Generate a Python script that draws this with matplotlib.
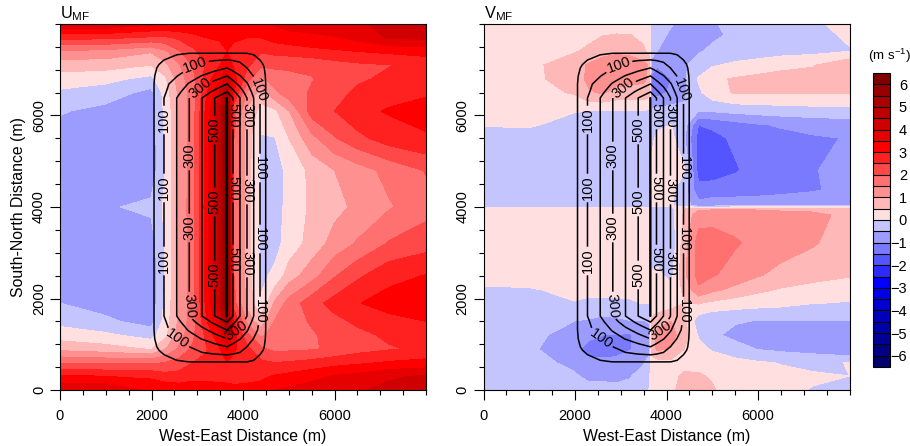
import numpy as np
import matplotlib
matplotlib.use("Agg")
import matplotlib.pyplot as plt
from matplotlib.colors import ListedColormap, BoundaryNorm
from matplotlib.ticker import MultipleLocator

plt.rcParams['font.family'] = ['Liberation Sans', 'DejaVu Sans']
plt.rcParams['mathtext.fontset'] = 'custom'
plt.rcParams['mathtext.rm'] = 'Liberation Sans'
plt.rcParams['mathtext.default'] = 'rm'

# ---- data ----
u_x = [0, 984, 1989, 2295, 2601, 2907, 3191, 3497, 3650, 3803, 4100, 4393, 4699, 5005, 5508, 6000, 6492, 7191, 8000]
u_y = [8000, 7700, 7400, 7100, 6800, 6500, 6100, 5500, 4800, 4000, 3200, 2500, 1900, 1500, 1200, 900, 600, 300, 0]
u_values = [
 [3.9,3.9,3.6,3.55,3.5,3.5,3.5,3.4,3.3,3.25,3.2,3.3,3.55,3.7,3.8,3.9,3.95,4.1,4.2],
 [2.66,2.6,2.42,2.4,2.6,2.8,3.0,3.05,3.1,3.05,3.0,3.0,3.2,3.3,3.35,3.45,3.65,4.05,4.1],
 [1.4,1.35,1.05,1.4,1.95,2.4,2.7,2.85,3.0,2.9,2.75,2.55,2.65,2.7,2.85,2.92,3.0,3.1,3.2],
 [0.7,0.7,0.5,0.85,1.45,2.05,2.55,3.0,3.5,2.9,2.6,2.1,2.1,2.1,2.08,2.28,2.4,2.48,2.65],
 [0.3,0.15,-0.15,0.4,1.25,1.85,2.7,3.5,4.3,3.2,2.2,1.4,1.75,1.85,1.98,2.2,2.42,2.6,2.8],
 [-0.1,-0.25,-0.65,0.2,1.1,1.75,2.9,4.0,5.2,3.0,1.4,0.8,1.4,1.8,2.05,2.3,2.6,2.8,2.95],
 [-0.45,-0.65,-0.7,0.1,1.0,1.8,3.1,4.5,6.3,2.2,0.9,0.3,0.4,1.0,2.25,2.5,2.85,3.05,3.15],
 [-0.75,-0.8,-0.8,0.05,1.0,1.8,3.2,4.6,6.4,2.0,0.7,-0.05,-0.02,0.5,1.35,1.95,2.35,2.75,2.95],
 [-0.85,-0.85,-0.8,0.0,1.0,1.8,3.2,4.6,6.4,2.0,0.7,-0.1,-0.15,0.1,0.65,1.0,1.27,1.65,2.03],
 [-0.85,-0.55,-0.4,0.1,1.0,1.9,3.2,4.6,6.4,2.0,0.7,-0.15,-0.2,0.15,0.6,0.85,1.1,1.45,1.8],
 [-0.85,-0.85,-0.75,0.05,1.0,1.8,3.2,4.6,6.4,2.0,0.7,-0.1,-0.15,0.2,0.7,1.2,1.55,2.05,2.3],
 [-0.8,-0.85,-0.85,0.0,1.0,1.8,3.2,4.6,6.4,2.0,0.7,-0.1,0.1,0.75,1.3,1.95,2.4,2.85,3.02],
 [-0.5,-0.7,-0.85,0.1,1.05,1.8,3.1,4.5,6.3,2.2,0.8,0.05,1.1,1.7,2.3,2.7,2.97,3.2,3.3],
 [-0.15,-0.4,-0.7,0.2,1.1,1.8,2.9,4.0,5.4,3.0,1.3,0.7,1.55,1.8,2.05,2.35,2.6,2.85,3.0],
 [0.25,0.1,-0.2,0.35,1.25,1.9,2.6,3.4,4.4,3.2,2.1,1.4,1.7,1.8,1.95,2.15,2.35,2.6,2.8],
 [0.85,0.7,0.45,0.95,1.6,2.1,2.45,3.0,3.6,3.1,2.6,2.1,1.85,1.9,1.95,2.1,2.3,2.45,2.6],
 [1.95,1.9,1.9,2.0,2.2,2.5,2.6,2.8,3.0,2.8,2.7,2.6,2.5,2.55,2.65,2.8,2.9,3.05,3.15],
 [3.1,3.0,2.9,2.7,2.7,2.8,2.8,2.85,2.9,2.85,2.85,2.9,3.05,3.15,3.35,3.55,3.65,3.95,4.05],
 [3.9,3.9,3.4,3.4,3.3,3.35,3.3,3.2,3.1,3.1,3.15,3.2,3.5,3.6,3.75,3.85,3.95,4.1,4.2],
]

v_x = [0, 984, 1989, 2295, 2601, 2907, 3191, 3497, 3628, 3672, 3803, 4100, 4393, 4699, 5005, 5508, 6000, 6492, 7191, 8000]
v_y = [8000, 7760, 7410, 7104, 6798, 6500, 6098, 5792, 5508, 4809, 4372, 4033, 3956, 3825, 3213, 2514, 2186, 1902, 1508, 1202, 896, 601, 306, 0]
v_values = [
 [0.15,0.15,0.2,0.25,0.3,0.3,0.25,0.15,0.05,-0.05,-0.2,-0.45,-0.7,-0.7,-0.55,-0.35,-0.3,-0.2,-0.05,0.1],
 [0.15,0.2,0.3,0.35,0.48,0.52,0.52,0.35,0.15,-0.1,-0.3,-0.6,-0.7,-0.75,-0.6,-0.4,-0.3,-0.2,-0.1,0.05],
 [0.2,0.3,0.45,0.6,0.8,0.9,0.85,0.6,0.3,-0.2,-0.5,-0.75,-0.75,-0.55,-0.4,-0.3,-0.25,-0.2,-0.15,-0.02],
 [0.2,0.35,0.8,1.05,1.25,1.3,1.3,1.15,0.9,-0.8,-0.95,-0.9,-0.55,-0.3,-0.05,0.1,0.2,0.35,0.45,0.9],
 [0.2,0.35,0.75,1.1,1.3,1.2,1.15,1.1,0.9,-1.1,-1.3,-1.0,-0.6,0.05,0.4,0.55,0.65,0.7,0.75,0.8],
 [0.15,0.3,0.55,0.95,1.05,0.85,0.8,0.8,0.7,-1.1,-1.2,-0.9,-0.55,-0.1,0.3,0.55,0.55,0.55,0.55,0.55],
 [0.15,0.12,0.02,0.0,-0.02,-0.03,-0.03,-0.03,-0.05,-0.4,-0.35,-0.3,-0.45,-0.5,-0.45,-0.35,-0.3,-0.25,-0.2,-0.2],
 [0.02,0.05,-0.15,-0.2,-0.25,-0.25,-0.25,-0.2,-0.2,-0.2,-0.1,0.02,-0.3,-1.5,-1.4,-1.2,-1.05,-0.95,-0.85,-0.75],
 [-0.15,-0.2,-0.3,-0.3,-0.3,-0.3,-0.3,-0.25,-0.2,-0.1,0.1,0.15,-0.45,-1.7,-1.65,-1.4,-1.25,-1.15,-1.05,-0.98],
 [-0.35,-0.35,-0.35,-0.35,-0.35,-0.3,-0.3,-0.2,-0.1,0.1,0.2,0.15,0.05,-1.7,-1.8,-1.55,-1.3,-1.25,-1.02,-0.9],
 [-0.35,-0.35,-0.35,-0.35,-0.35,-0.3,-0.3,-0.2,-0.15,0.0,0.15,0.1,-0.3,-1.35,-1.25,-1.25,-1.2,-1.15,-1.05,-0.85],
 [-0.3,-0.3,-0.3,-0.3,-0.3,-0.25,-0.25,-0.15,-0.1,0.05,0.1,0.05,-0.25,-0.8,-0.75,-0.7,-0.7,-0.65,-0.6,-0.55],
 [0.25,0.25,0.25,0.25,0.25,0.25,0.25,0.2,0.1,-0.1,-0.2,-0.2,0.5,0.9,0.95,0.95,0.95,0.9,0.9,0.8],
 [0.25,0.25,0.25,0.25,0.25,0.25,0.25,0.2,0.1,-0.1,-0.2,-0.2,0.6,1.3,1.3,1.3,1.25,1.2,1.1,0.9],
 [0.3,0.3,0.3,0.3,0.3,0.25,0.2,0.15,0.1,-0.1,-0.3,-0.4,0.8,1.7,1.75,1.55,1.35,1.25,1.05,0.75],
 [0.3,0.25,0.2,0.2,0.2,0.15,0.15,0.1,0.05,0.02,0.1,-0.15,0.9,1.7,1.55,1.3,1.05,0.85,0.7,0.55],
 [-0.1,-0.05,0.12,0.12,0.12,0.12,0.1,0.1,0.05,0.05,0.1,0.15,0.6,1.4,1.1,0.85,0.6,0.45,0.3,0.2],
 [-0.2,-0.2,-0.02,-0.1,-0.1,-0.08,-0.05,0.02,0.02,0.1,0.15,0.25,0.5,0.55,0.4,0.25,0.2,0.15,0.02,-0.03],
 [-0.25,-0.3,-0.5,-0.55,-0.65,-0.6,-0.52,-0.52,-0.45,0.6,0.8,1.0,0.6,-0.3,-0.45,-0.45,-0.52,-0.52,-0.52,-0.5],
 [-0.25,-0.35,-0.7,-0.85,-1.0,-1.02,-1.05,-0.75,-0.7,0.8,1.15,1.2,0.7,-0.05,-0.4,-0.65,-0.7,-0.7,-0.7,-0.7],
 [-0.25,-0.4,-0.85,-1.2,-1.3,-1.25,-1.05,-0.75,-0.65,0.7,1.1,0.95,0.5,0.15,-0.05,-0.3,-0.52,-0.62,-0.72,-1.02],
 [-0.25,-0.35,-0.6,-0.85,-0.85,-0.8,-0.65,-0.55,-0.3,0.3,0.3,0.35,0.3,0.35,0.25,0.15,0.05,-0.02,-0.1,0.02],
 [-0.2,-0.3,-0.45,-0.6,-0.6,-0.6,-0.55,-0.25,-0.05,0.2,0.25,0.35,0.6,0.55,0.45,0.25,0.15,0.1,0.05,0.0],
 [-0.2,-0.25,-0.3,-0.35,-0.35,-0.4,-0.3,-0.1,0.02,0.1,0.2,0.45,0.6,0.65,0.55,0.2,0.15,0.1,-0.02,-0.2],
]

terrain_x = [0, 1900, 2055, 2164, 2273, 2551, 2826, 3104, 3381, 3650, 3781, 3934, 4087, 4234, 4372, 4440, 4496, 4650, 8000]
terrain_y = [8000, 7500, 7355, 7213, 7038, 6863, 6688, 6514, 6383, 1617, 1486, 1311, 1121, 946, 772, 619, 500, 0]
terrain_values = [
 [0]*19,
 [0,0,0,5,10,15,20,25,25,30,25,25,20,15,10,5,0,0,0],
 [0,0,5,20,30,45,51,51,51,51,51,51,51,45,30,20,5,0,0],
 [0,0,15,40,50,70,80,88,95,101,95,88,80,70,50,40,15,0,0],
 [0,0,40,58,62,80,100,130,165,201,165,130,100,80,62,58,40,0,0],
 [0,0,48,62,68,97,150,205,255,301,255,205,150,97,68,62,48,0,0],
 [0,0,50,68,78,135,210,275,335,401,335,275,210,135,78,68,50,0,0],
 [0,0,50,75,85,170,260,345,425,501,425,345,260,170,85,75,50,0,0],
 [0,0,50,75,100,200,300,400,500,605,500,400,300,200,100,75,50,0,0],
 [0,0,50,75,100,200,300,400,500,605,500,400,300,200,100,75,50,0,0],
 [0,0,50,75,85,170,260,345,425,501,425,345,260,170,85,75,50,0,0],
 [0,0,50,68,78,135,210,275,335,401,335,275,210,135,78,68,50,0,0],
 [0,0,48,62,68,97,150,205,255,301,255,205,150,97,68,62,48,0,0],
 [0,0,40,58,62,80,100,130,165,201,165,130,100,80,62,58,40,0,0],
 [0,0,15,40,50,70,80,88,95,101,95,88,80,70,50,40,15,0,0],
 [0,0,5,20,30,45,51,51,51,51,51,51,51,45,30,20,5,0,0],
 [0,0,0,5,10,15,20,25,25,30,25,25,20,15,10,5,0,0,0],
 [0]*19,
]
plain_levels = [50, 200, 400, 600]
labelled_levels = [100, 300, 500]

fill_levels = np.arange(-6.5, 6.51, 0.5)
band_colors = ['#00006E','#000080','#000096','#0000AA','#0000BB','#0000D0','#0000E6','#0000FF','#2B2BFF','#5555FF','#7A7AFF','#9C9CFF','#C4C4FF',
               '#FFDFDF','#FFB8B8','#FF9090','#FF7070','#FF4848','#FF2020','#FF0000','#E60000','#D00000','#BB0000','#AA0000','#960000','#800000']
cbar_ticks = [6, 5, 4, 3, 2, 1, 0, -1, -2, -3, -4, -5, -6]

# labels of the terrain contours: pixel position inside a panel, rotation
label_spots = [
 (164,120,90),(164,188,90),(164,261,90),(196,67,20),(177,339,-35),
 (189,156,90),(189,228,90),(190,306,-85),(201,90,40),(237,331,35),
 (215,130,90),(215,202,90),(215.7,275,90),
 (233,115,-90),(233,188,-90),(233,259,-90),
 (246,115,-90),(246,190,-90),(246,263,-90),
 (257,90,-70),(259,168,-90),(259,239,-90),(260,311,-90),
]

# ---- figure ----
W, H = 910, 446
fig = plt.figure(figsize=(W/100, H/100), dpi=100)
cmap = ListedColormap(band_colors)
norm = BoundaryNorm(fill_levels, cmap.N)


def panel(left, xs, ys, zs, title, ylabel):
    ax = fig.add_axes([left/W, (H-390)/H, 366/W, 366/H])
    xs = np.array(xs, float)
    ys = np.array(ys, float)[::-1]
    zs = np.array(zs, float)[::-1]
    cf = ax.contourf(xs, ys, zs, levels=fill_levels, cmap=cmap, norm=norm)
    tx = np.array(terrain_x, float)
    ty = np.array(terrain_y, float)[::-1]
    tz = np.array(terrain_values, float)[::-1]
    ax.contour(tx, ty, tz, levels=plain_levels, colors='k', linewidths=1.1)
    cs = ax.contour(tx, ty, tz, levels=labelled_levels, colors='k', linewidths=1.1)
    spots = [((px-60)*8000/366, (390-py)*8000/366) for px, py, _ in label_spots]
    labels = ax.clabel(cs, manual=spots, inline=True,
                       inline_spacing=2, fontsize=10.5, fmt='%d')
    for t, (_, _, rot) in zip(labels, label_spots):
        t.set_rotation(rot)
    ax.set_xlim(0, 8000)
    ax.set_ylim(0, 8000)
    ax.set_xticks([0, 2000, 4000, 6000])
    ax.set_yticks([0, 2000, 4000, 6000])
    ax.xaxis.set_minor_locator(MultipleLocator(500))
    ax.yaxis.set_minor_locator(MultipleLocator(500))
    ax.tick_params(which='major', length=7, width=0.8, labelsize=10.5, top=False, right=False)
    ax.tick_params(axis='x', which='major', pad=7)
    ax.tick_params(axis='y', which='major', pad=3)
    ax.tick_params(which='minor', length=3.5, width=0.8, top=False, right=False)
    for t in ax.get_yticklabels():
        t.set_rotation(90)
        t.set_va('center')
    ax.set_xlabel('West-East Distance (m)', fontsize=11.4, labelpad=4)
    if ylabel:
        ax.set_ylabel('South-North Distance (m)', fontsize=11.4)
        ax.yaxis.set_label_coords(-0.093, 0.5)
    ax.text(0, 1.016, title, transform=ax.transAxes, fontsize=11.8, ha='left', va='baseline')
    return cf


cf = panel(60, u_x, u_y, u_values, r'U$_{MF}$', True)
panel(483.5, v_x, v_y, v_values, r'V$_{MF}$', False)

cax = fig.add_axes([872.5/W, (H-367)/H, 17/W, 294/H])
cbar = fig.colorbar(cf, cax=cax, ticks=cbar_ticks, drawedges=True, spacing='uniform')
cbar.dividers.set_color('black')
cbar.dividers.set_linewidth(0.8)
cbar.outline.set_linewidth(0.8)
cax.tick_params(which='both', length=0, labelsize=10.5, pad=12.6)
cax.minorticks_off()
for t in cax.get_yticklabels():
    t.set_ha('right')
fig.text(889.5/W, (H-56)/H, r'(m s$^{-1}$)', fontsize=9.6, ha='center', va='center')

fig.savefig('out.png', dpi=100)
